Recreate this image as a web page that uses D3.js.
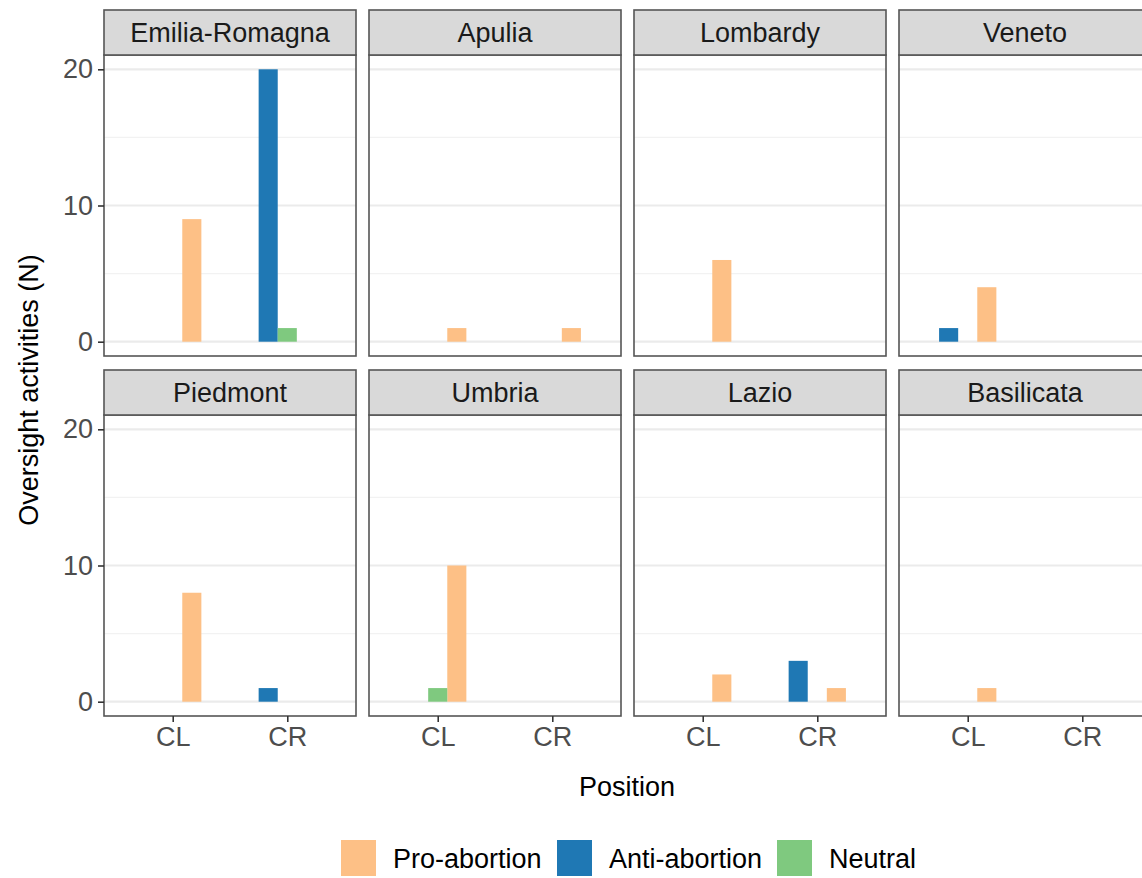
<!DOCTYPE html>
<html>
<head>
<meta charset="utf-8">
<script src="https://cdn.jsdelivr.net/npm/d3@7"></script>
<style>
	body { margin: 0; background: #fff; overflow: hidden; }
	svg { display: block; font-family: "Liberation Sans", Arial, sans-serif; }
</style>
</head>
<body>
<div id="chart"></div>
<script>
// facets, in the order they are laid out (4 per row)
const regions = [
	"Emilia-Romagna", "Apulia", "Lombardy", "Veneto",
	"Piedmont", "Umbria", "Lazio", "Basilicata",
];
const positions = ["CL", "CR"];
const stances = ["Pro-abortion", "Anti-abortion", "Neutral"];
// dodge order inside each position (alphabetical, like ggplot)
const dodgeOrder = ["Anti-abortion", "Neutral", "Pro-abortion"];

// counts per region as [CL, CR]
const proAbortion = [[9, 0], [1, 1], [6, 0], [4, 0], [8, 0], [10, 0], [2, 1], [1, 0]];
const antiAbortion = [[0, 20], [0, 0], [0, 0], [1, 0], [0, 1], [0, 0], [0, 3], [0, 0]];
const neutral = [[0, 1], [0, 0], [0, 0], [0, 0], [0, 0], [1, 0], [0, 0], [0, 0]];

const yTicks = [0, 10, 20];
const yMinor = [5, 15];

const colors = {
	"Pro-abortion": "#FDC086",
	"Anti-abortion": "#1F78B4",
	"Neutral": "#7FC97F",
};

// long table built from the arrays above
const seriesByStance = {
	"Pro-abortion": proAbortion,
	"Anti-abortion": antiAbortion,
	"Neutral": neutral,
};
const rows = [];
regions.forEach((region, ri) => {
	stances.forEach(s => {
		positions.forEach((p, pi) => {
			rows.push({ region, ri, stance: s, position: p, value: seriesByStance[s][ri][pi] });
		});
	});
});

const width = 1142;
const height = 878;

// facet geometry
const panelW = 252;
const colStep = 265;
const rowStep = 360;
const left0 = 104;
const stripTop0 = 10;
const stripH = 45;
const panelH = 301;
const fontSize = 27;

const svg = d3.select("#chart")
	.append("svg")
	.attr("width", width)
	.attr("height", height);

// scales shared by every panel
const yScale = d3.scaleLinear([-1.05, 21.05], [panelH, 0]);
const xScale = d3.scalePoint(positions, [0, panelW]).padding(0.6);
const step = xScale.step();
const dodge = d3.scaleBand(dodgeOrder, [-step * 0.25, step * 0.25]);

regions.forEach((region, ri) => {
	const col = ri % 4;
	const row = Math.floor(ri / 4);
	const x0 = left0 + col * colStep;
	const stripY = stripTop0 + row * rowStep;
	const panelY = stripY + stripH;

	const g = svg.append("g").attr("transform", `translate(${x0},${panelY})`);

	// minor + major grid
	g.selectAll(".minor")
		.data(yMinor)
		.join("line")
		.attr("x1", 0)
		.attr("x2", panelW)
		.attr("y1", d => yScale(d))
		.attr("y2", d => yScale(d))
		.attr("stroke", "#F2F2F2")
		.attr("stroke-width", 1.3);
	g.selectAll(".major")
		.data(yTicks)
		.join("line")
		.attr("x1", 0)
		.attr("x2", panelW)
		.attr("y1", d => yScale(d))
		.attr("y2", d => yScale(d))
		.attr("stroke", "#EBEBEB")
		.attr("stroke-width", 2.2);

	// bars
	g.selectAll("rect.bar")
		.data(rows.filter(d => d.ri === ri && d.value > 0))
		.join("rect")
		.attr("class", "bar")
		.attr("x", d => xScale(d.position) + dodge(d.stance))
		.attr("width", dodge.bandwidth())
		.attr("y", d => yScale(d.value))
		.attr("height", d => yScale(0) - yScale(d.value))
		.attr("fill", d => colors[d.stance]);

	// panel border
	g.append("rect")
		.attr("width", panelW)
		.attr("height", panelH)
		.attr("fill", "none")
		.attr("stroke", "#555")
		.attr("stroke-width", 1.6);

	// strip
	const strip = svg.append("g").attr("transform", `translate(${x0},${stripY})`);
	strip.append("rect")
		.attr("width", panelW)
		.attr("height", stripH)
		.attr("fill", "#D9D9D9")
		.attr("stroke", "#555")
		.attr("stroke-width", 1.6);
	strip.append("text")
		.attr("x", panelW / 2)
		.attr("y", stripH / 2)
		.attr("dy", "0.36em")
		.attr("text-anchor", "middle")
		.style("font-size", fontSize + "px")
		.style("fill", "#1A1A1A")
		.text(region);

	// y axis on first column
	if (col === 0) {
		const yAxis = d3.axisLeft(yScale).tickValues(yTicks).tickSize(6).tickPadding(5);
		const ya = g.append("g").call(yAxis);
		ya.select(".domain").remove();
		ya.selectAll("line").attr("stroke", "#333").attr("stroke-width", 1.6);
		ya.selectAll("text")
			.style("font-size", fontSize + "px")
			.style("font-family", "'Liberation Sans', Arial, sans-serif")
			.attr("fill", "#4D4D4D");
	}

	// x axis on bottom row
	if (row === 1) {
		const xAxis = d3.axisBottom(xScale).tickSize(6).tickPadding(5);
		const xa = g.append("g").attr("transform", `translate(0,${panelH})`).call(xAxis);
		xa.select(".domain").remove();
		xa.selectAll("line").attr("stroke", "#333").attr("stroke-width", 1.6);
		xa.selectAll("text")
			.style("font-size", fontSize + "px")
			.style("font-family", "'Liberation Sans', Arial, sans-serif")
			.attr("fill", "#4D4D4D");
	}
});

// axis titles
svg.append("text")
	.attr("x", 627)
	.attr("y", 796)
	.attr("text-anchor", "middle")
	.style("font-size", fontSize + "px")
	.style("fill", "#000")
	.text("Position");

svg.append("text")
	.attr("transform", "translate(38,390) rotate(-90)")
	.attr("text-anchor", "middle")
	.style("font-size", fontSize + "px")
	.style("fill", "#000")
	.text("Oversight activities (N)");

// legend
const legendX = [341, 557, 777];
const legend = svg.append("g");
stances.forEach((s, i) => {
	legend.append("rect")
		.attr("x", legendX[i])
		.attr("y", 840)
		.attr("width", 35)
		.attr("height", 36)
		.attr("fill", colors[s]);
	legend.append("text")
		.attr("x", legendX[i] + 52)
		.attr("y", 858)
		.attr("dy", "0.36em")
		.style("font-size", fontSize + "px")
		.style("fill", "#000")
		.text(s);
});
</script>
</body>
</html>
